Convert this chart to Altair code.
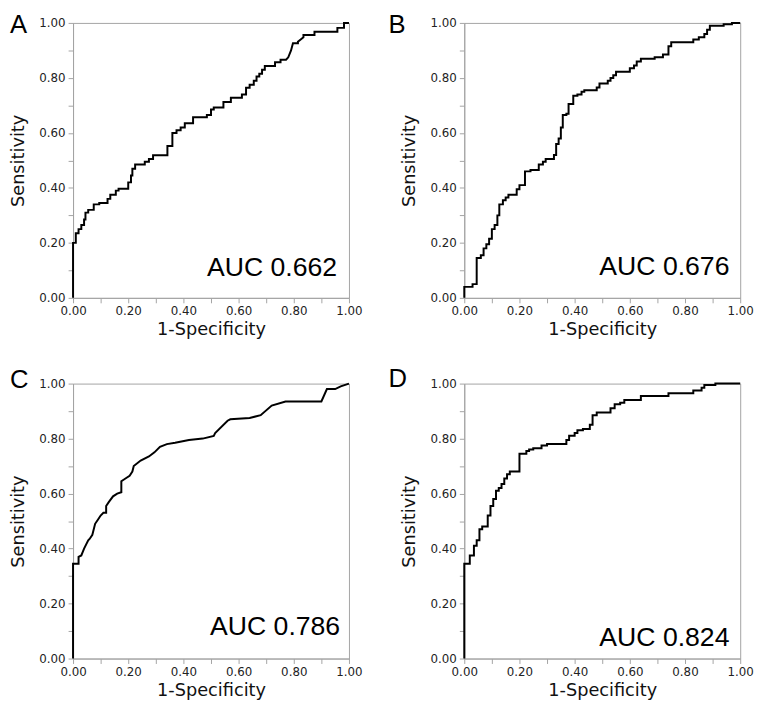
import altair as alt
import pandas as pd

# ---- Panel A (AUC 0.662) ----
A_FPR = [0, 0, 0.01, 0.01, 0.02, 0.02, 0.03, 0.03, 0.04, 0.04, 0.045, 0.045, 0.055, 0.055, 0.075, 0.075,
         0.095, 0.095, 0.125, 0.125, 0.135, 0.135, 0.155, 0.155, 0.165, 0.165, 0.2, 0.2, 0.21, 0.21,
         0.215, 0.215, 0.225, 0.225, 0.26, 0.26, 0.275, 0.275, 0.29, 0.29, 0.342, 0.342, 0.36, 0.36,
         0.375, 0.375, 0.39, 0.39, 0.405, 0.405, 0.435, 0.435, 0.485, 0.485, 0.5, 0.5, 0.51, 0.51,
         0.545, 0.545, 0.572, 0.572, 0.612, 0.612, 0.627, 0.627, 0.64, 0.64, 0.655, 0.655, 0.665, 0.665,
         0.675, 0.675, 0.685, 0.685, 0.695, 0.695, 0.732, 0.732, 0.752, 0.752, 0.772, 0.78, 0.79, 0.797,
         0.815, 0.815, 0.825, 0.835, 0.835, 0.875, 0.875, 0.958, 0.958, 0.982, 0.982, 1.0]
A_TPR = [0, 0.2, 0.2, 0.235, 0.235, 0.25, 0.25, 0.265, 0.265, 0.285, 0.285, 0.31, 0.31, 0.32, 0.32, 0.34,
         0.34, 0.345, 0.345, 0.36, 0.36, 0.375, 0.375, 0.39, 0.39, 0.397, 0.397, 0.42, 0.42, 0.445,
         0.445, 0.47, 0.47, 0.485, 0.485, 0.495, 0.495, 0.505, 0.505, 0.519, 0.519, 0.552, 0.552, 0.6,
         0.6, 0.61, 0.61, 0.62, 0.62, 0.635, 0.635, 0.657, 0.657, 0.665, 0.665, 0.685, 0.685, 0.692,
         0.692, 0.712, 0.712, 0.728, 0.728, 0.74, 0.74, 0.764, 0.764, 0.775, 0.775, 0.79, 0.79, 0.805,
         0.805, 0.815, 0.815, 0.83, 0.83, 0.843, 0.843, 0.857, 0.857, 0.866, 0.866, 0.875, 0.9, 0.926,
         0.926, 0.932, 0.94, 0.948, 0.956, 0.956, 0.968, 0.968, 0.982, 0.982, 1.0, 1.0]

# ---- Panel B (AUC 0.676) ----
B_FPR = [0, 0, 0.03, 0.03, 0.045, 0.045, 0.06, 0.06, 0.07, 0.07, 0.08, 0.08, 0.09, 0.09, 0.1, 0.1,
         0.11, 0.11, 0.12, 0.12, 0.127, 0.127, 0.14, 0.14, 0.15, 0.15, 0.16, 0.16, 0.19, 0.19, 0.2, 0.2,
         0.22, 0.22, 0.24, 0.24, 0.27, 0.27, 0.285, 0.285, 0.295, 0.295, 0.325, 0.325, 0.333, 0.333,
         0.342, 0.342, 0.35, 0.35, 0.357, 0.357, 0.37, 0.37, 0.378, 0.378, 0.395, 0.395, 0.41, 0.41,
         0.425, 0.425, 0.435, 0.435, 0.48, 0.48, 0.49, 0.49, 0.52, 0.52, 0.53, 0.53, 0.54, 0.54, 0.55,
         0.55, 0.6, 0.6, 0.615, 0.615, 0.625, 0.625, 0.64, 0.64, 0.69, 0.69, 0.72, 0.72, 0.74, 0.74,
         0.75, 0.75, 0.83, 0.83, 0.85, 0.85, 0.87, 0.87, 0.88, 0.88, 0.89, 0.89, 0.94, 0.94, 0.97, 0.97, 1.0]
B_TPR = [0, 0.04, 0.04, 0.05, 0.05, 0.145, 0.145, 0.155, 0.155, 0.18, 0.18, 0.195, 0.195, 0.215, 0.215,
         0.25, 0.25, 0.265, 0.265, 0.3, 0.3, 0.34, 0.34, 0.355, 0.355, 0.365, 0.365, 0.375, 0.375, 0.395,
         0.395, 0.41, 0.41, 0.46, 0.46, 0.465, 0.465, 0.485, 0.485, 0.495, 0.495, 0.505, 0.505, 0.52,
         0.52, 0.56, 0.56, 0.58, 0.58, 0.62, 0.62, 0.665, 0.665, 0.67, 0.67, 0.705, 0.705, 0.735, 0.735,
         0.74, 0.74, 0.75, 0.75, 0.755, 0.755, 0.765, 0.765, 0.78, 0.78, 0.79, 0.79, 0.8, 0.8, 0.81, 0.81,
         0.822, 0.822, 0.835, 0.835, 0.845, 0.845, 0.86, 0.86, 0.87, 0.87, 0.875, 0.875, 0.885, 0.885,
         0.915, 0.915, 0.93, 0.93, 0.94, 0.94, 0.948, 0.948, 0.96, 0.96, 0.975, 0.975, 0.99, 0.99, 0.995,
         0.995, 1.0, 1.0]

# ---- Panel C (AUC 0.786) ----
C_FPR = [0, 0, 0.02, 0.02, 0.03, 0.04, 0.055, 0.06, 0.07, 0.08, 0.09, 0.1, 0.11, 0.12, 0.12, 0.13,
         0.145, 0.16, 0.175, 0.175, 0.19, 0.205, 0.215, 0.22, 0.245, 0.275, 0.295, 0.315, 0.34, 0.37,
         0.42, 0.47, 0.51, 0.515, 0.56, 0.57, 0.64, 0.68, 0.72, 0.77, 0.9, 0.92, 0.95, 0.97, 1.0]
C_TPR = [0, 0.345, 0.345, 0.37, 0.375, 0.4, 0.43, 0.435, 0.45, 0.49, 0.505, 0.52, 0.53, 0.53, 0.555,
         0.57, 0.59, 0.6, 0.605, 0.645, 0.655, 0.665, 0.68, 0.7, 0.72, 0.735, 0.75, 0.77, 0.78, 0.785,
         0.795, 0.8, 0.81, 0.82, 0.865, 0.87, 0.875, 0.885, 0.92, 0.935, 0.935, 0.98, 0.98, 0.99, 1.0]

# ---- Panel D (AUC 0.824) ----
D_FPR = [0, 0, 0.02, 0.02, 0.035, 0.035, 0.045, 0.045, 0.055, 0.055, 0.065, 0.065, 0.085, 0.085, 0.095,
         0.095, 0.105, 0.105, 0.115, 0.115, 0.125, 0.125, 0.135, 0.135, 0.145, 0.145, 0.155, 0.155, 0.165,
         0.165, 0.2, 0.2, 0.225, 0.225, 0.235, 0.235, 0.25, 0.25, 0.28, 0.28, 0.3, 0.3, 0.37, 0.37, 0.38,
         0.38, 0.4, 0.4, 0.41, 0.41, 0.43, 0.43, 0.455, 0.455, 0.465, 0.465, 0.48, 0.48, 0.53, 0.53, 0.545,
         0.545, 0.565, 0.565, 0.58, 0.58, 0.64, 0.64, 0.74, 0.74, 0.83, 0.83, 0.86, 0.86, 0.87, 0.87, 0.91,
         0.91, 1.0]
D_TPR = [0, 0.345, 0.345, 0.375, 0.375, 0.41, 0.41, 0.43, 0.43, 0.47, 0.47, 0.48, 0.48, 0.52, 0.52,
         0.555, 0.555, 0.58, 0.58, 0.61, 0.61, 0.62, 0.62, 0.635, 0.635, 0.655, 0.655, 0.67, 0.67, 0.68,
         0.68, 0.745, 0.745, 0.755, 0.755, 0.76, 0.76, 0.765, 0.765, 0.775, 0.775, 0.78, 0.78, 0.795, 0.795,
         0.81, 0.81, 0.82, 0.82, 0.83, 0.83, 0.835, 0.835, 0.85, 0.85, 0.885, 0.885, 0.895, 0.895, 0.91,
         0.91, 0.925, 0.925, 0.93, 0.93, 0.94, 0.94, 0.955, 0.955, 0.965, 0.965, 0.975, 0.975, 0.985, 0.985,
         0.995, 0.995, 1.0, 1.0]

LETTERS = ["A", "B", "C", "D"]
AUC_LABELS = ["AUC 0.662", "AUC 0.676", "AUC 0.786", "AUC 0.824"]
AUC_POS_X = [0.957, 0.961, 0.968, 0.961]
AUC_POS_Y = [0.079, 0.082, 0.086, 0.047]
TICKS = [round(i / 10, 1) for i in range(11)]

GRAY = "#a4a4a4"
W, H = 280, 279


def make_axis(title, title_pad, label_pad):
    return alt.Axis(
        values=TICKS, format=".2f",
        labelExpr="round(datum.value*10) % 2 == 0 ? datum.label : ''",
        grid=False, tickSize=5, tickColor=GRAY, domainColor=GRAY,
        labelPadding=label_pad, labelFlush=False, labelOverlap=False,
        labelFont="DejaVu Sans", labelFontSize=12, labelColor="#222222",
        title=title, titleFont="DejaVu Sans", titleFontSize=18,
        titleFontWeight="normal", titleColor="#111111", titlePadding=title_pad,
    )


def panel(letter, fpr, tpr, auc, ax, ay, ldx, ldy):
    xs = alt.Scale(domain=[0, 1], nice=False)
    ys = alt.Scale(domain=[0, 1], nice=False)
    xenc = alt.X("fpr:Q", scale=xs, axis=make_axis("1-Specificity", 4, 3))
    yenc = alt.Y("tpr:Q", scale=ys, axis=make_axis("Sensitivity", 12, 3))
    df = pd.DataFrame({"fpr": fpr, "tpr": tpr, "i": list(range(len(fpr)))})
    line = alt.Chart(df).mark_line(color="black", strokeWidth=2, strokeJoin="miter").encode(
        x=xenc, y=yenc, order="i:Q")
    auc_df = pd.DataFrame({"fpr": [ax], "tpr": [ay], "t": [auc]})
    auc_t = alt.Chart(auc_df).mark_text(
        align="right", baseline="alphabetic", font="Liberation Sans", fontSize=27,
        color="black").encode(x=xenc, y=yenc, text="t:N")
    let_df = pd.DataFrame({"t": [letter]})
    let_t = alt.Chart(let_df).mark_text(
        align="left", baseline="alphabetic", font="Liberation Sans", fontSize=26,
        color="black").encode(x=alt.value(ldx), y=alt.value(ldy), text="t:N")
    return alt.layer(line, auc_t, let_t).properties(width=W, height=H)


pA = panel("A", A_FPR, A_TPR, AUC_LABELS[0], AUC_POS_X[0], AUC_POS_Y[0], -64, 10)
pB = panel("B", B_FPR, B_TPR, AUC_LABELS[1], AUC_POS_X[1], AUC_POS_Y[1], -77, 10)
pC = panel("C", C_FPR, C_TPR, AUC_LABELS[2], AUC_POS_X[2], AUC_POS_Y[2], -64, 4)
pD = panel("D", D_FPR, D_TPR, AUC_LABELS[3], AUC_POS_X[3], AUC_POS_Y[3], -77, 3)

chart = alt.concat(
    pA, pB, pC, pD, columns=2,
    spacing=alt.RowColnumber(row=87, column=117), bounds="flush",
).properties(
    padding={"left": 0, "top": -2, "right": 0, "bottom": 0},
    background="white",
).configure_view(stroke=GRAY, strokeWidth=1)

chart.save("out.html", embed_options={"renderer": "svg", "actions": False})
